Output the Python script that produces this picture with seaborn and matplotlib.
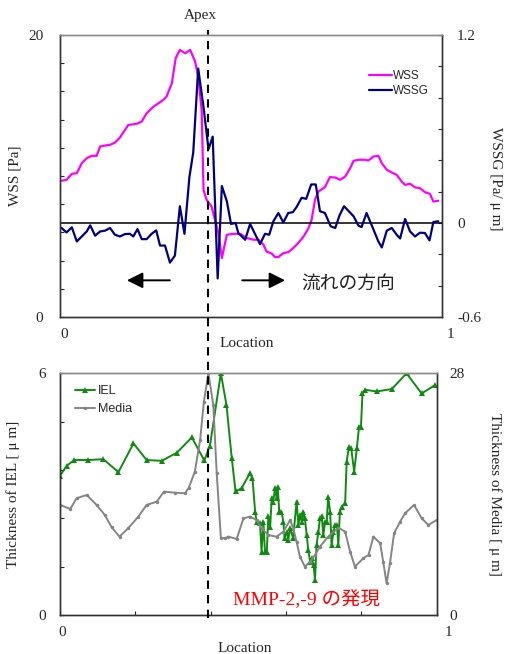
import numpy as np
import pandas as pd
import matplotlib
matplotlib.use('Agg')
import matplotlib.pyplot as plt
import matplotlib.transforms as mtransforms
from matplotlib.lines import Line2D
import seaborn as sns

sns.set_style('ticks', {'xtick.direction': 'in', 'ytick.direction': 'in'})
plt.rcParams['font.family'] = ['Liberation Serif', 'Noto Sans CJK JP']

# top panel: wall shear stress and its gradient
wss_loc = [0.004, 0.017, 0.031, 0.044, 0.057, 0.070, 0.083, 0.096, 0.105, 0.118, 0.131, 0.144,
           0.157, 0.179, 0.201, 0.214, 0.227, 0.245, 0.258, 0.271, 0.279, 0.293, 0.303, 0.314,
           0.328, 0.341, 0.354, 0.362, 0.371, 0.376, 0.384, 0.397, 0.406, 0.415, 0.424, 0.437,
           0.454, 0.472, 0.489, 0.507, 0.520, 0.533, 0.541, 0.555, 0.563, 0.572, 0.585, 0.598,
           0.611, 0.624, 0.638, 0.651, 0.659, 0.668, 0.677, 0.694, 0.707, 0.721, 0.734, 0.747,
           0.760, 0.769, 0.782, 0.799, 0.808, 0.821, 0.834, 0.843, 0.856, 0.869, 0.882, 0.895,
           0.904, 0.917, 0.930, 0.943, 0.956, 0.969, 0.978, 0.991]
wss = [9.66, 9.73, 10.15, 10.20, 10.91, 11.26, 11.43, 11.43, 12.09, 12.16, 12.21, 12.37,
       12.73, 13.62, 13.70, 13.86, 14.45, 14.92, 15.16, 15.40, 15.63, 16.58, 18.35, 18.94,
       18.70, 18.94, 18.11, 17.05, 14.69, 9.02, 8.31, 7.84, 6.89, 5.95, 4.18, 5.83,
       5.90, 5.90, 5.60, 5.48, 5.48, 5.12, 4.65, 4.49, 4.25, 4.25, 4.53, 4.60,
       4.89, 5.24, 5.71, 6.30, 6.89, 8.31, 8.90, 9.21, 9.92, 9.89, 9.73, 9.96,
       10.55, 11.07, 11.15, 11.15, 11.10, 11.38, 11.43, 10.91, 10.44, 10.25, 10.08, 9.61,
       9.37, 9.45, 9.19, 9.14, 8.85, 8.74, 8.19, 8.24]

wssg_loc = [0.004, 0.017, 0.031, 0.044, 0.057, 0.070, 0.079, 0.092, 0.105, 0.118, 0.131, 0.144,
            0.157, 0.170, 0.183, 0.192, 0.203, 0.214, 0.227, 0.240, 0.252, 0.262, 0.275, 0.288,
            0.301, 0.314, 0.326, 0.339, 0.349, 0.362, 0.376, 0.389, 0.400, 0.413, 0.424, 0.437,
            0.448, 0.460, 0.467, 0.485, 0.498, 0.511, 0.524, 0.537, 0.548, 0.559, 0.572, 0.585,
            0.598, 0.610, 0.620, 0.633, 0.645, 0.658, 0.670, 0.681, 0.694, 0.709, 0.721, 0.732,
            0.744, 0.755, 0.769, 0.782, 0.790, 0.803, 0.817, 0.834, 0.843, 0.856, 0.869, 0.882,
            0.891, 0.904, 0.917, 0.930, 0.943, 0.956, 0.968, 0.978, 0.991]
wssg = [-0.032, -0.060, -0.028, -0.118, -0.086, -0.054, -0.015, -0.081, -0.054, -0.049, -0.032, -0.075,
        -0.086, -0.071, -0.069, -0.086, -0.039, -0.103, -0.103, -0.069, -0.047, -0.144, -0.144, -0.253,
        -0.208, 0.107, -0.069, 0.294, 0.450, 0.986, 0.739, 0.471, 0.551, -0.354, 0.236, 0.139,
        -0.006, 0.000, -0.064, -0.107, -0.006, -0.071, -0.135, -0.069, -0.075, 0.011, 0.064, 0.004,
        0.064, 0.069, 0.103, 0.161, 0.154, 0.246, 0.246, 0.075, 0.064, -0.021, -0.032, 0.047,
        0.107, 0.079, 0.043, -0.017, -0.026, 0.064, -0.017, -0.118, -0.156, -0.049, -0.032, -0.075,
        -0.099, 0.026, -0.054, -0.086, -0.062, -0.064, -0.111, 0.006, 0.011]

# bottom panel: IEL and media thickness
iel_loc = [0.000, 0.018, 0.038, 0.075, 0.115, 0.155, 0.195, 0.230, 0.270, 0.310, 0.350, 0.383,
           0.398, 0.427, 0.442, 0.456, 0.466, 0.482, 0.504, 0.511, 0.518, 0.522, 0.531, 0.535,
           0.540, 0.544, 0.549, 0.553, 0.558, 0.562, 0.566, 0.571, 0.575, 0.578, 0.582, 0.588,
           0.593, 0.596, 0.602, 0.606, 0.611, 0.619, 0.628, 0.633, 0.637, 0.642, 0.646, 0.650,
           0.655, 0.659, 0.664, 0.668, 0.673, 0.677, 0.681, 0.686, 0.690, 0.695, 0.699, 0.704,
           0.708, 0.712, 0.717, 0.721, 0.726, 0.730, 0.735, 0.739, 0.743, 0.748, 0.757, 0.761,
           0.767, 0.773, 0.781, 0.788, 0.794, 0.799, 0.803, 0.810, 0.841, 0.881, 0.920, 0.960,
           0.996]
iel = [3.46, 3.71, 3.85, 3.85, 3.87, 3.55, 4.26, 3.85, 3.83, 4.03, 4.41, 3.84,
       4.20, 6.00, 5.21, 3.89, 3.07, 3.15, 3.52, 3.40, 2.57, 2.32, 2.28, 1.58,
       2.32, 1.58, 1.58, 2.45, 2.20, 2.90, 2.82, 3.15, 2.90, 3.19, 2.57, 2.57,
       2.32, 1.91, 2.07, 1.87, 2.16, 1.91, 2.82, 2.24, 2.49, 2.32, 2.57, 2.40,
       1.99, 1.62, 1.33, 1.41, 1.25, 0.88, 1.74, 2.07, 2.40, 2.45, 1.99, 2.32,
       2.32, 2.94, 2.57, 1.74, 2.07, 2.24, 2.24, 1.74, 2.57, 2.69, 2.78, 3.81,
       4.18, 4.14, 3.56, 4.14, 4.68, 4.68, 5.50, 5.59, 5.55, 5.61, 6.00, 5.50,
       5.71]

media_loc = [0.000, 0.027, 0.044, 0.071, 0.097, 0.119, 0.137, 0.158, 0.181, 0.208, 0.230, 0.257,
             0.276, 0.305, 0.332, 0.342, 0.358, 0.372, 0.382, 0.394, 0.407, 0.416, 0.427, 0.438,
             0.447, 0.469, 0.487, 0.504, 0.522, 0.535, 0.553, 0.575, 0.593, 0.611, 0.619, 0.628,
             0.637, 0.650, 0.664, 0.677, 0.690, 0.712, 0.739, 0.757, 0.770, 0.783, 0.805, 0.819,
             0.832, 0.850, 0.858, 0.867, 0.876, 0.887, 0.903, 0.916, 0.940, 0.960, 0.978, 1.000]
media = [12.77, 12.30, 13.54, 13.92, 12.77, 11.61, 10.18, 9.10, 10.07, 11.42, 12.77, 13.15,
         14.31, 14.19, 14.11, 14.77, 16.62, 20.29, 24.72, 28.00, 24.33, 16.43, 8.99, 8.91,
         9.10, 8.83, 11.22, 11.42, 11.03, 10.07, 9.29, 9.10, 9.68, 11.03, 10.07, 8.52,
         6.79, 5.63, 6.21, 6.98, 7.94, 9.10, 10.14, 9.68, 7.37, 5.63, 6.59, 6.98,
         9.10, 8.33, 6.21, 3.70, 6.02, 9.49, 10.84, 11.80, 12.77, 11.22, 10.45, 11.03]

top_df = pd.DataFrame({'loc': wss_loc, 'WSS': wss})
grad_df = pd.DataFrame({'loc': wssg_loc, 'WSSG': wssg})
iel_df = pd.DataFrame({'loc': iel_loc, 'IEL': iel})
media_df = pd.DataFrame({'loc': media_loc, 'Media': media})

fig = plt.figure(figsize=(5.06, 6.54), dpi=100)
ax1 = fig.add_axes([0.1186, 0.5153, 0.7544, 0.4312])
ax2 = ax1.twinx()
ax3 = fig.add_axes([0.1186, 0.0592, 0.7444, 0.37])
ax4 = ax3.twinx()

sans = {'family': 'Liberation Sans'}

# ---- top panel
sns.lineplot(data=top_df, x='loc', y='WSS', ax=ax1, color='#ff00ff', lw=1.6,
             estimator=None, sort=False, label='WSS', legend=False)
ax2.axhline(0, color='black', lw=1.1, zorder=1)
sns.lineplot(data=grad_df, x='loc', y='WSSG', ax=ax2, color='#000080', lw=1.6,
             estimator=None, sort=False, label='WSSG', legend=False)

ax1.set_xlim(0, 1)
ax1.set_ylim(0, 20)
ax2.set_ylim(-0.6, 1.2)
ax1.set_yticks(np.arange(0, 21, 2))
ax1.set_yticklabels(['0'] + [''] * 9 + ['20'])
wssg_ticks = [-0.6, -0.4, -0.2, 0, 0.2, 0.4, 0.6, 0.8, 1.0, 1.2]
ax2.set_yticks(wssg_ticks)
ax2.set_yticklabels(['-0.6', '', '', '0', '', '', '', '', '', '1.2'])
ax1.set_xticks([0, 1])
ax1.set_xticklabels(['0', '1'])
ax1.tick_params(axis='x', length=0, labelsize=11, pad=8)
ax1.tick_params(axis='y', length=3, labelsize=11, pad=12)
ax2.tick_params(axis='y', length=3, labelsize=11, pad=11)
ax1.set_xlabel('Location', fontsize=11)
ax1.xaxis.set_label_coords(0.49, -0.07)
ax1.set_ylabel('WSS [Pa]', fontsize=11)
ax1.yaxis.set_label_coords(-0.10, 0.5)
ax2.set_ylabel('WSSG [Pa/ μ m]', fontsize=11, rotation=-90, va='center')
ax2.yaxis.set_label_coords(1.14, 0.49)

h1, l1 = ax1.get_legend_handles_labels()
h2, l2 = ax2.get_legend_handles_labels()
ax2.legend(h1 + h2, l1 + l2, loc='upper left', bbox_to_anchor=(0.81, 0.875), frameon=False,
           prop={**sans, 'size': 8.5}, handlelength=1.9, handletextpad=0.1,
           labelspacing=0.25, borderpad=0, borderaxespad=0)

ax1.annotate('', xy=(0.168, 0.13), xytext=(0.295, 0.13), xycoords='axes fraction',
             arrowprops=dict(arrowstyle='-|>', color='black', lw=1.4, mutation_scale=24))
ax1.annotate('', xy=(0.597, 0.13), xytext=(0.47, 0.13), xycoords='axes fraction',
             arrowprops=dict(arrowstyle='-|>', color='black', lw=1.4, mutation_scale=24))
ax1.text(0.632, 0.12, '流れの方向', transform=ax1.transAxes, fontsize=13.5,
         family=['Noto Sans CJK JP'], va='center', ha='left', color='#222222')

# ---- bottom panel
sns.lineplot(data=iel_df, x='loc', y='IEL', ax=ax3, color='#108a10', lw=1.4,
             marker='^', markersize=4, markeredgewidth=0, estimator=None, sort=False,
             label='IEL', legend=False)
sns.lineplot(data=media_df, x='loc', y='Media', ax=ax4, color='#858585', lw=1.4,
             marker='o', markersize=2.5, markeredgewidth=0, estimator=None, sort=False,
             label='Media', legend=False)

ax3.set_xlim(0, 1)
ax3.set_ylim(0, 6)
ax4.set_ylim(0, 28)
ax3.set_yticks([0, 1.2, 2.4, 3.6, 4.8, 6])
ax3.set_yticklabels(['0', '', '', '', '', '6'])
ax3.set_xticks([0, 0.2, 0.4, 0.6, 0.8, 1])
ax3.set_xticklabels(['0', '', '', '', '', '1'])
ax4.set_yticks([0, 28])
ax4.set_yticklabels(['0', '28'])
ax3.tick_params(axis='x', length=3, labelsize=11, pad=8)
ax3.tick_params(axis='y', length=3, labelsize=11, pad=10)
ax4.tick_params(axis='y', length=0, labelsize=11, pad=9)
ax3.set_xlabel('Location', fontsize=11)
ax3.xaxis.set_label_coords(0.49, -0.11)
ax3.set_ylabel('Thickness of IEL [ μ m]', fontsize=11)
ax3.yaxis.set_label_coords(-0.105, 0.5)
ax4.set_ylabel('Thickness of Media [ μ m]', fontsize=11, rotation=-90, va='center')
ax4.yaxis.set_label_coords(1.155, 0.5)

h3, l3 = ax3.get_legend_handles_labels()
h4, l4 = ax4.get_legend_handles_labels()
ax4.legend(h3 + h4, l3 + l4, loc='upper left', bbox_to_anchor=(0.04, 0.95), frameon=False,
           prop={**sans, 'size': 9}, handlelength=1.6, handletextpad=0.2,
           labelspacing=0.45, borderpad=0, borderaxespad=0)

ax3.text(0.459, 0.063, 'MMP-2,-9 の発現', transform=ax3.transAxes, fontsize=14,
         color='#ff0000', va='center', ha='left',
         family=['Liberation Serif', 'Noto Sans CJK JP'])

# the "0"/"1" location labels sit a bit to the right in the original
for ax, dx0, dx1 in ((ax1, 4, 9), (ax3, 2, 12)):
    labels = ax.get_xticklabels()
    labels[0].set_transform(labels[0].get_transform() +
                            mtransforms.ScaledTranslation(dx0 / 100, 0, fig.dpi_scale_trans))
    labels[-1].set_transform(labels[-1].get_transform() +
                             mtransforms.ScaledTranslation(dx1 / 100, 0, fig.dpi_scale_trans))

for ax in (ax1, ax2, ax3, ax4):
    for side in ('left', 'right', 'bottom'):
        ax.spines[side].set_color('#333333')
        ax.spines[side].set_linewidth(1.0)
    ax.spines['top'].set_color('#8a8a8a')
    ax.spines['top'].set_linewidth(1.0)

# apex marker, dashed across both panels
fig.add_artist(Line2D([0.411, 0.411], [0.055, 0.954], transform=fig.transFigure,
                      color='black', lw=1.5, ls=(0, (4, 3))))
fig.text(0.395, 0.977, 'Apex', fontsize=11, ha='center', va='center')

fig.savefig('out.png', dpi=100)
